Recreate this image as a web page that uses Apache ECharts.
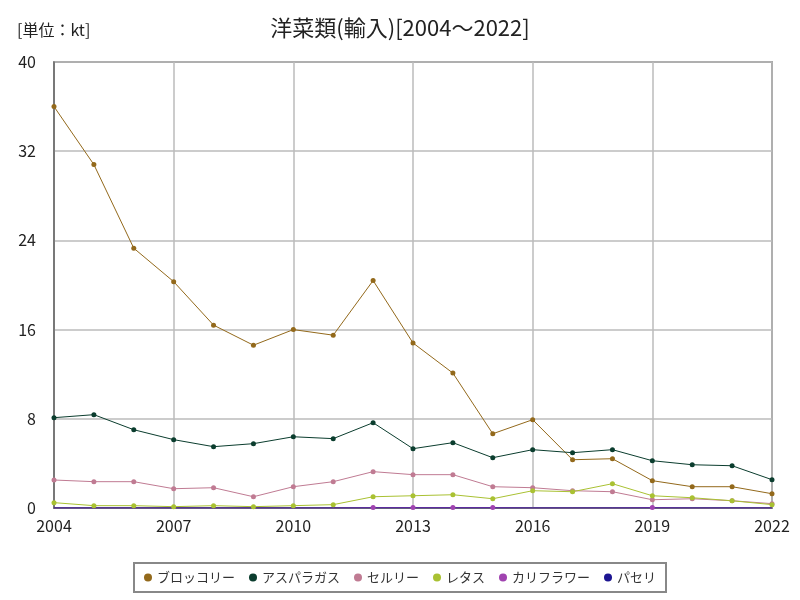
<!DOCTYPE html>
<html><head><meta charset="utf-8">
<script src="https://cdn.jsdelivr.net/npm/echarts@6/dist/echarts.min.js"></script>
<style>html,body{margin:0;padding:0;background:#fff}#c{width:800px;height:600px}</style>
</head><body><div id="c"></div>
<script>
const years = [2004,2005,2006,2007,2008,2009,2010,2011,2012,2013,2014,2015,2016,2017,2018,2019,2020,2021,2022];
const broccoli = [36.0,30.8,23.3,20.3,16.4,14.6,16.0,15.5,20.4,14.8,12.1,6.66,7.92,4.33,4.42,2.45,1.91,1.91,1.28];
const asparagus = [8.1,8.37,7.02,6.13,5.5,5.77,6.39,6.22,7.65,5.32,5.86,4.51,5.23,4.96,5.23,4.24,3.88,3.79,2.54];
const celery = [2.51,2.36,2.36,1.73,1.82,1.01,1.91,2.36,3.26,2.99,2.99,1.91,1.82,1.55,1.46,0.74,0.83,0.65,0.39];
const lettuce = [0.48,0.21,0.21,0.12,0.21,0.12,0.21,0.30,1.01,1.10,1.19,0.83,1.55,1.46,2.18,1.10,0.92,0.65,0.30];
const cauliflower = [0,0,0,0,0,0,0,0,0.04,0.04,0.04,0.04,0,0,0,0.04,0,0,0];
const parsley = [0,0,0,0,0,0,0,0,0,0,0,0,0,0,0,0,0,0,0];
const seriesNames = ['ブロッコリー','アスパラガス','セルリー','レタス','カリフラワー','パセリ'];
const seriesColors = ['#93691b','#0b3d2e','#c07b93','#a9c132','#a043b0','#1c1591'];
const yTicks = [0,8,16,24,32,40];
const xTicks = [2004,2007,2010,2013,2016,2019,2022];

const dataSets = [broccoli, asparagus, celery, lettuce, cauliflower, parsley];
const font = '"Noto Sans CJK JP", sans-serif';
const chart = echarts.init(document.getElementById('c'));
chart.setOption({
  animation: false,
  backgroundColor: '#fff',
  title: [
    {text: '洋菜類(輸入)[2004～2022]', left: 'center', top: 12, textStyle: {fontFamily: font, fontSize: 22, fontWeight: 'normal', color: '#222'}},
    {text: '[単位：kt]', left: 12, top: 17, textStyle: {fontFamily: font, fontSize: 16, fontWeight: 'normal', color: '#222'}}
  ],
  grid: {left: 54, right: 28, top: 62, bottom: 92, show: true, borderColor: '#666', borderWidth: 1.5, backgroundColor: 'transparent'},
  legend: {
    bottom: 8, left: 'center', data: seriesNames, icon: 'circle', itemWidth: 8, itemHeight: 8, itemGap: 14,
    borderColor: '#888', borderWidth: 2, padding: [8, 10], backgroundColor: '#fff',
    textStyle: {fontFamily: font, fontSize: 13, color: '#333'}
  },
  xAxis: {
    type: 'value', min: 2004, max: 2022, interval: 3,
    axisLine: {show: true, lineStyle: {color: '#666', width: 1.5}},
    axisTick: {show: false},
    axisLabel: {fontFamily: font, fontSize: 16, color: '#222', margin: 10, formatter: v => xTicks.includes(v) ? String(v) : ''},
    splitLine: {show: true, lineStyle: {color: '#bbb', width: 1.5}}
  },
  yAxis: {
    type: 'value', min: 0, max: 40, interval: 8,
    axisLine: {show: true, lineStyle: {color: '#666', width: 1.5}},
    axisTick: {show: false},
    axisLabel: {fontFamily: font, fontSize: 16, color: '#222', margin: 18, formatter: v => yTicks.includes(v) ? String(v) : ''},
    splitLine: {show: true, lineStyle: {color: '#bbb', width: 1.5}}
  },
  series: seriesNames.map((n, i) => ({
    name: n, type: 'line', data: years.map((y, j) => [y, dataSets[i][j]]),
    symbol: v => (v[1] > 0 ? 'circle' : 'none'), symbolSize: 5, showSymbol: true,
    itemStyle: {color: seriesColors[i]},
    lineStyle: {color: seriesColors[i], width: 1}
  }))
});
</script></body></html>
